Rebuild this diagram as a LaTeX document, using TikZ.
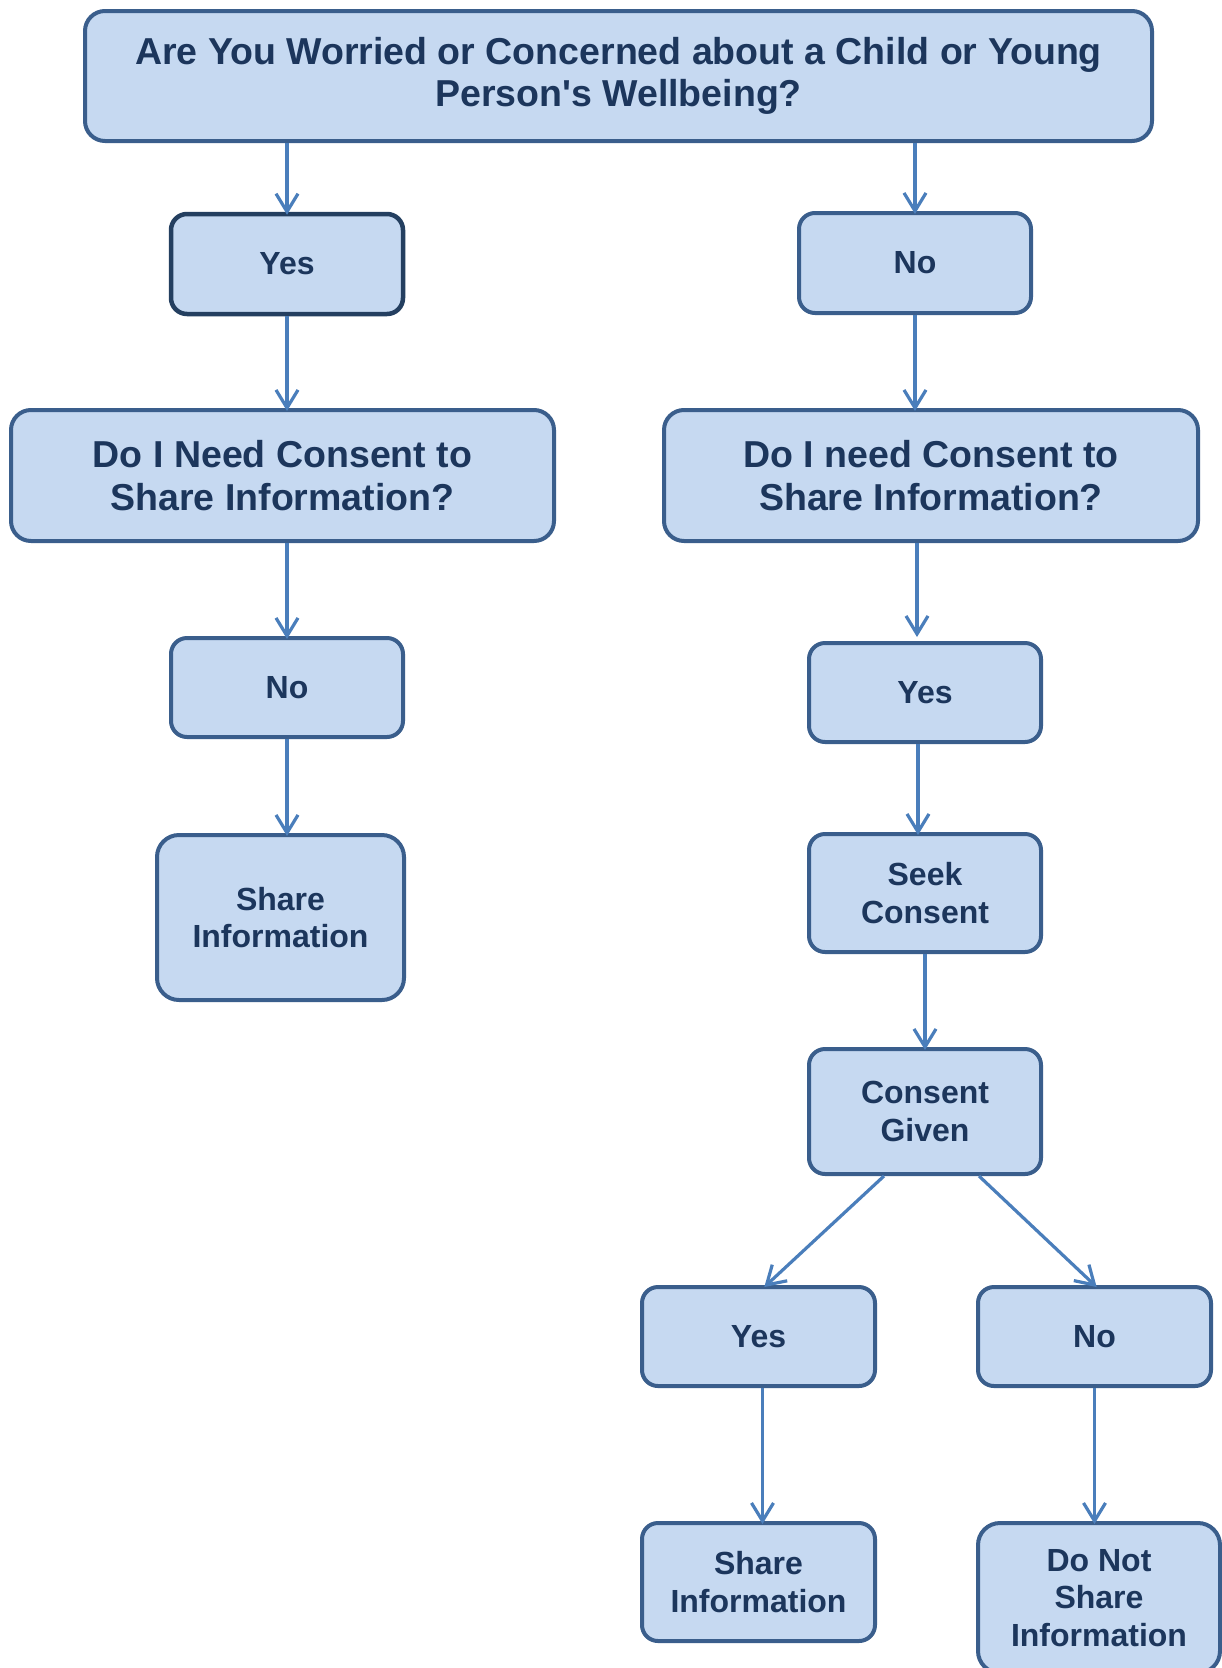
\documentclass[tikz,border=0pt]{standalone}
\usepackage{fontspec}
\setmainfont{Liberation Sans}[Ligatures=TeXOff]
\usetikzlibrary{arrows.meta}
\definecolor{boxfill}{HTML}{C6D9F1}
\definecolor{boxline}{HTML}{3A5E8C}
\definecolor{boxdark}{HTML}{243F60}
\definecolor{arrowc}{HTML}{4A7EBB}
\definecolor{txt}{HTML}{1C365C}
\begin{document}
\begin{tikzpicture}[x=1pt,y=-1pt,
  box/.style={draw=boxline, fill=boxfill, line width=4pt, rounded corners=16pt,
    text=txt, font=\bfseries\fontsize{32}{37.5}\selectfont, align=center, inner sep=0pt},
  bigbox/.style={box, rounded corners=20pt, font=\bfseries\fontsize{37.5}{42.5}\selectfont},
  arr/.style={draw=arrowc, line width=3.2pt, shorten >=-3pt, -{Straight Barb[length=18pt,width=22pt]}}]
\fill[white] (0,0) rectangle (1222,1668);
\useasboundingbox (0,0) rectangle (1222,1668);

\node[bigbox, minimum width=1067pt, minimum height=130pt] (top) at (618.5,76)
  {Are You Worried or Concerned about a Child or Young\\Person's Wellbeing?};
\node[box, draw=boxdark, line width=4.5pt, minimum width=232pt, minimum height=100pt] (yes1) at (287,264) {Yes};
\node[box, minimum width=232pt, minimum height=100pt] (no1) at (915,263) {No};
\node[bigbox, minimum width=543pt, minimum height=131pt] (q1) at (282.5,475.5)
  {Do I Need Consent to\\Share Information?};
\node[bigbox, minimum width=534pt, minimum height=131pt] (q2) at (931,475.5)
  {Do I need Consent to\\Share Information?};
\node[box, minimum width=232pt, minimum height=99pt] (no2) at (287,687.5) {No};
\node[box, rounded corners=22pt, minimum width=247pt, minimum height=165pt] (share1) at (280.5,917.5)
  {Share\\Information};
\node[box, minimum width=232pt, minimum height=99pt] (yes2) at (925,692.5) {Yes};
\node[box, minimum width=232pt, minimum height=118pt] (seek) at (925,893) {Seek\\Consent};
\node[box, minimum width=232pt, minimum height=125pt] (given) at (925,1111.5) {Consent\\Given};
\node[box, minimum width=233pt, minimum height=99pt] (yes3) at (758.5,1336.5) {Yes};
\node[box, minimum width=233pt, minimum height=99pt] (no3) at (1094.5,1336.5) {No};
\node[box, minimum width=233pt, minimum height=118pt] (share2) at (758.5,1582) {Share\\Information};
\node[box, rounded corners=22pt, minimum width=242pt, minimum height=150pt] (notshare) at (1099,1598)
  {Do Not\\Share\\Information};

\draw[arr] (top.south -| yes1.north) -- (yes1.north);
\draw[arr] (top.south -| no1.north) -- (no1.north);
\draw[arr] (yes1.south) -- (yes1.south |- q1.north);
\draw[arr] (no1.south) -- (no1.south |- q2.north);
\draw[arr] (q1.south -| no2.north) -- (no2.north);
\draw[arr] (no2.south) -- (no2.south |- share1.north);
\draw[arr] ([xshift=-8pt]q2.south -| yes2.north) -- ([xshift=-8pt,yshift=7pt]yes2.north);
\draw[arr] ([xshift=-7pt]yes2.south) -- ([xshift=-7pt]seek.north);
\draw[arr] (seek.south) -- (given.north);
\draw[arr] ([xshift=-41pt]given.south) -- ([xshift=8pt]yes3.north);
\draw[arr] ([xshift=54pt]given.south) -- (no3.north);
\draw[arr] ([xshift=4pt]yes3.south) -- ([xshift=4pt]share2.north);
\draw[arr] (no3.south) -- (no3.south |- notshare.north);
\end{tikzpicture}
\end{document}
